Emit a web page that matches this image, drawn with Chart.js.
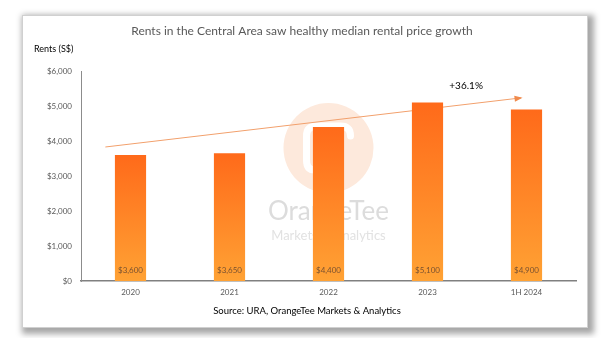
<!DOCTYPE html>
<html>
<head>
<meta charset="utf-8">
<script src="https://cdn.jsdelivr.net/npm/chart.js@4"></script>
<style>
  html, body { margin: 0; padding: 0; background: #fff; }
  #wrap { position: relative; width: 604px; height: 338px; overflow: hidden; }
  #card { position: absolute; left: 22px; top: 15px; width: 564px; height: 311px;
          background: #fff; border: 1px solid #d0d0d0;
          box-shadow: 3px 3px 6px 3px rgba(0,0,0,0.35); }
  #c { position: absolute; left: 0; top: 0; }
</style>
</head>
<body>
<div id="wrap">
  <div id="card"></div>
  <canvas id="c" width="604" height="338"></canvas>
</div>
<script>
// data
const categories = ['2020', '2021', '2022', '2023', '1H 2024'];
const rents = [3600, 3650, 4400, 5100, 4900];
const yTicks = [0, 1000, 2000, 3000, 4000, 5000, 6000];
// trend arrow, in axis units (category index, rent)
const trendIndex = [-0.25, 3.94];
const trendRent = [3830, 5230];
const trendLabel = '+36.1%';

const titleText = 'Rents in the Central Area saw healthy median rental price growth';
const yTitleText = 'Rents (S$)';
const sourceText = 'Source: URA, OrangeTee Markets & Analytics';

const FONT = 'Lato, "Open Sans", sans-serif';

function fmt(v) {
    return '$' + v.toLocaleString('en-US');
}

function barGradient(ctx) {
    const chart = ctx.chart;
    const area = chart.chartArea;
    if (!area) return '#ff8a2a';
    const y = chart.scales.y;
    const top = y.getPixelForValue(ctx.raw);
    const bottom = y.getPixelForValue(0);
    const g = chart.ctx.createLinearGradient(0, top, 0, bottom);
    g.addColorStop(0, '#ff6a1a');
    g.addColorStop(1, '#ffa234');
    return g;
}

const decorPlugin = {
    id: 'decor',
    beforeDatasetsDraw(chart) {
        const c = chart.ctx;
        const xs = chart.scales.x, ys = chart.scales.y;
        c.save();
        // watermark
        const cx = xs.getPixelForValue(2), cy = ys.getPixelForValue(3800);
        c.fillStyle = '#fde9dc';
        c.beginPath();
        c.arc(cx, cy, 45, 0, Math.PI * 2);
        c.fill();
        c.strokeStyle = '#ffffff';
        c.lineWidth = 7;
        c.lineCap = 'round';
        c.beginPath();
        c.moveTo(cx - 2, cy + 22);
        c.lineTo(cx - 14, cy + 22);
        c.quadraticCurveTo(cx - 22, cy + 22, cx - 22, cy + 12);
        c.lineTo(cx - 22, cy - 12);
        c.quadraticCurveTo(cx - 22, cy - 22, cx - 12, cy - 22);
        c.lineTo(cx + 12, cy - 22);
        c.quadraticCurveTo(cx + 22, cy - 22, cx + 22, cy - 12);
        c.stroke();
        c.beginPath();
        c.moveTo(cx + 8, cy - 8);
        c.lineTo(cx + 8, cy + 22);
        c.stroke();
        c.textAlign = 'center';
        c.textBaseline = 'middle';
        c.fillStyle = '#dcdcdc';
        c.font = '26px ' + FONT;
        c.fillText('OrangeTee', cx, cy + 64);
        c.fillStyle = '#e2e2e2';
        c.font = '13px ' + FONT;
        c.fillText('Markets & Analytics', cx, cy + 88);

        // trend arrow
        const x0 = xs.getPixelForValue(trendIndex[0]), y0 = ys.getPixelForValue(trendRent[0]);
        const x1 = xs.getPixelForValue(trendIndex[1]), y1 = ys.getPixelForValue(trendRent[1]);
        c.strokeStyle = '#f2a06c';
        c.fillStyle = '#f08a4c';
        c.lineWidth = 1;
        c.beginPath();
        c.moveTo(x0, y0);
        c.lineTo(x1, y1);
        c.stroke();
        const a = Math.atan2(y1 - y0, x1 - x0);
        c.beginPath();
        c.moveTo(x1 + 2, y1 + 2 * Math.tan(a));
        c.lineTo(x1 - 6 * Math.cos(a) + 3 * Math.sin(a), y1 - 6 * Math.sin(a) - 3 * Math.cos(a));
        c.lineTo(x1 - 6 * Math.cos(a) - 3 * Math.sin(a), y1 - 6 * Math.sin(a) + 3 * Math.cos(a));
        c.closePath();
        c.fill();
        c.restore();
    },
    afterDatasetsDraw(chart) {
        const c = chart.ctx;
        const xs = chart.scales.x, ys = chart.scales.y;
        const meta = chart.getDatasetMeta(0);
        c.save();
        c.textAlign = 'center';
        c.textBaseline = 'middle';
        c.font = '8px ' + FONT;
        c.fillStyle = '#7a5230';
        meta.data.forEach((bar, i) => {
            c.fillText(fmt(rents[i]), bar.x, ys.getPixelForValue(0) - 11);
        });
        // growth label
        c.fillStyle = '#000';
        c.font = '10px ' + FONT;
        c.fillText(trendLabel, xs.getPixelForValue(3.39), ys.getPixelForValue(5570));
        // titles
        c.fillStyle = '#595959';
        c.font = '12px ' + FONT;
        c.fillText(titleText, 302, 31);
        c.fillStyle = '#000';
        c.font = '9.5px ' + FONT;
        c.fillText(sourceText, 307, 311);
        c.textAlign = 'left';
        c.font = '9px ' + FONT;
        c.fillText(yTitleText, 34, 49);
        c.restore();
    }
};

new Chart(document.getElementById('c'), {
    type: 'bar',
    data: {
        labels: categories,
        datasets: [{
            data: rents,
            backgroundColor: barGradient,
            borderWidth: 0,
            categoryPercentage: 1,
            barPercentage: 0.315
        }]
    },
    options: {
        responsive: false,
        animation: false,
        layout: { padding: { top: 71, right: 28, left: 0, bottom: 0 } },
        plugins: {
            legend: { display: false },
            tooltip: { enabled: false }
        },
        scales: {
            x: {
                grid: { display: false, drawTicks: false },
                border: { color: '#808080', width: 1.5 },
                ticks: { color: '#595959', font: { family: FONT, size: 8 }, padding: 7 },
                afterFit(s) { s.height = 57; }
            },
            y: {
                min: 0,
                max: 6000,
                afterBuildTicks(s) { s.ticks = yTicks.map(v => ({ value: v })); },
                grid: { display: false, drawTicks: false },
                border: { color: '#8c8c8c', width: 1 },
                ticks: {
                    color: '#595959',
                    font: { family: FONT, size: 8 },
                    padding: 9,
                    callback: v => fmt(v)
                },
                afterFit(s) { s.width = 81; }
            }
        }
    },
    plugins: [decorPlugin]
});
</script>
</body>
</html>
